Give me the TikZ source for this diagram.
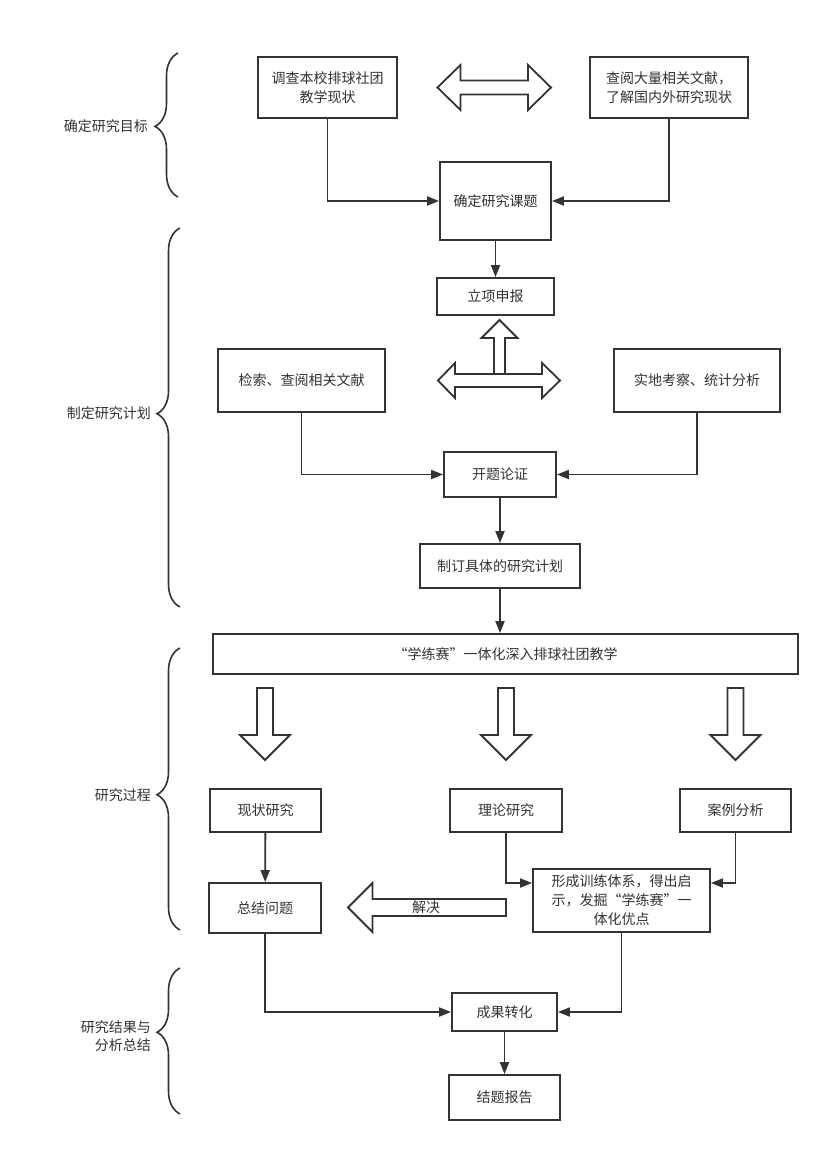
\documentclass[tikz,border=0pt]{standalone}
\usepackage{fontspec}
\setmainfont{Noto Sans CJK SC}
\usetikzlibrary{arrows.meta,decorations.pathreplacing,calc}
\definecolor{lc}{HTML}{333333}
\definecolor{tc}{HTML}{333333}
\begin{document}
\begin{tikzpicture}[x=1pt,y=-1pt,
  box/.style={draw=lc, line width=1.8pt, fill=white, inner sep=0pt, align=center,
              font=\fontsize{14}{19}\selectfont, text=tc},
  arr/.style={draw=lc, line width=1.8pt, -{Triangle[length=12pt,width=9pt]}},
  hollow/.style={draw=lc, line width=1.8pt, fill=white, line join=miter},
  brc/.style={draw=lc, line width=1.6pt, decorate},
  lab/.style={anchor=east, align=right, font=\fontsize{14}{18}\selectfont, text=tc, inner sep=0pt}]
\fill[white] (0,0) rectangle (831,1154);
\path[use as bounding box] (0,0) rectangle (831,1154);

% braces and labels
\draw[brc, decoration={brace, amplitude=23pt, aspect=0.49}] (178,197) -- (178,53);
\draw[brc, decoration={brace, amplitude=23pt, aspect=0.51}] (180,607) -- (180,228);
\draw[brc, decoration={brace, amplitude=23pt, aspect=0.48}] (180,930) -- (180,648);
\draw[brc, decoration={brace, amplitude=23pt, aspect=0.56}] (180,1114) -- (180,968);
\node[lab] (l1) at (148,126) {确定研究目标};
\node[lab] (l2) at (151,413) {制定研究计划};
\node[lab] (l3) at (151,795) {研究过程};
\node[lab] (l4) at (151,1036) {研究结果与\\分析总结};

% boxes
\node[box, minimum width=139pt, minimum height=61pt] (A) at (327.5,87.5) {调查本校排球社团\\教学现状};
\node[box, minimum width=158pt, minimum height=61pt] (B) at (669,87.5) {查阅大量相关文献，\\了解国内外研究现状};
\node[box, minimum width=111pt, minimum height=78pt] (C) at (495.5,201) {确定研究课题};
\node[box, minimum width=117pt, minimum height=37pt] (D) at (495.5,296.5) {立项申报};
\node[box, minimum width=167pt, minimum height=63pt] (E) at (301.5,380.5) {检索、查阅相关文献};
\node[box, minimum width=166pt, minimum height=63pt] (F) at (697,380.5) {实地考察、统计分析};
\node[box, minimum width=112pt, minimum height=45pt] (G) at (500,474.5) {开题论证};
\node[box, minimum width=160pt, minimum height=44pt] (H) at (500,566) {制订具体的研究计划};
\node[box, minimum width=585pt, minimum height=40pt] (I) at (505.5,654) {“学练赛”一体化深入排球社团教学};
\node[box, minimum width=111pt, minimum height=43pt] (J) at (265.5,810.5) {现状研究};
\node[box, minimum width=112pt, minimum height=43pt] (K) at (506,810.5) {理论研究};
\node[box, minimum width=111pt, minimum height=43pt] (L) at (735.5,810.5) {案例分析};
\node[box, minimum width=177pt, minimum height=63pt] (M) at (621.5,900.5) {形成训练体系，得出启\\示，发掘“学练赛”一\\体化优点};
\node[box, minimum width=112pt, minimum height=50pt] (N) at (265,908) {总结问题};
\node[box, minimum width=105pt, minimum height=38pt] (P) at (504.5,1012) {成果转化};
\node[box, minimum width=111pt, minimum height=45pt] (Q) at (504.5,1097.5) {结题报告};

% connectors
\draw[arr] (A) |- (C);
\draw[arr] (B) |- (C);
\draw[arr] (C) -- (D);
\draw[arr] (E) |- (G);
\draw[arr] (F) |- (G);
\draw[arr] (G) -- (H);
\draw[arr] (H.south) -- (H.south |- I.north);
\draw[arr] (J) -- (N);
\draw[arr] (K.south) |- ([yshift=17.5pt]M.west);
\draw[arr] (L.south) |- ([yshift=17.5pt]M.east);
\draw[arr] (N) |- (P);
\draw[arr] (M) |- (P);
\draw[arr] (P) -- (Q);

% hollow arrows
\draw[hollow] (437.5,87.5) -- (460.5,65) -- (460.5,80.5) -- (528,80.5) -- (528,65) -- (551,87.5)
  -- (528,110) -- (528,94.5) -- (460.5,94.5) -- (460.5,110) -- cycle;
\draw[hollow] (438,380.5) -- (455,363) -- (455,374) -- (542,374) -- (542,363) -- (560,380.5)
  -- (542,398) -- (542,387) -- (455,387) -- (455,398) -- cycle;
\draw[hollow] (499.5,320) -- (517.5,338) -- (505,338) -- (505,374) -- (494,374) -- (494,338) -- (481.5,338) -- cycle;
\foreach \cx in {265,506,735.5} {
  \draw[hollow] (\cx-8,688) -- (\cx+8,688) -- (\cx+8,735) -- (\cx+25,735) -- (\cx,760)
    -- (\cx-25,735) -- (\cx-8,735) -- cycle;
}
\draw[hollow] (348,907.5) -- (372.5,883) -- (372.5,899) -- (506,899) -- (506,916) -- (372.5,916) -- (372.5,932) -- cycle;
\node[font=\fontsize{14}{17}\selectfont, text=tc, inner sep=0pt] (jj) at (426,907) {解决};
\end{tikzpicture}
\end{document}
